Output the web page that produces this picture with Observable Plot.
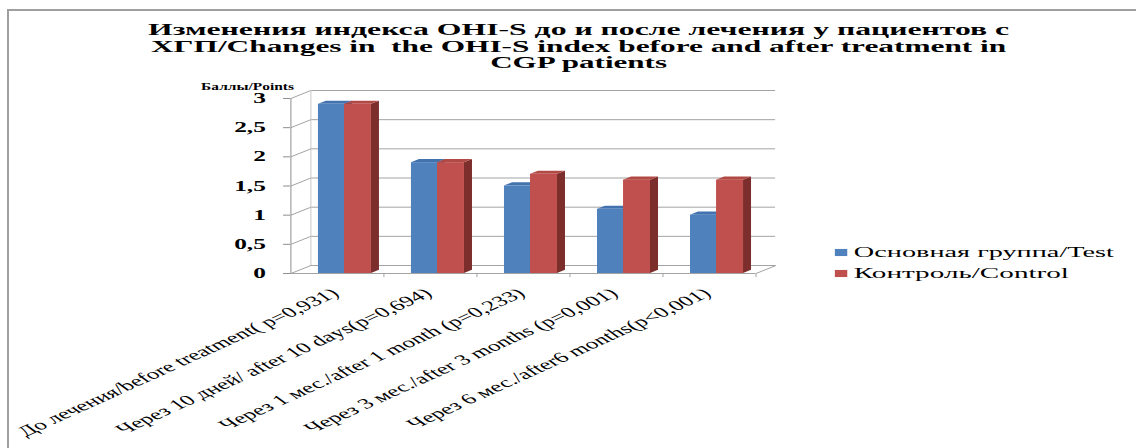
<!DOCTYPE html>
<html>
<head>
<meta charset="utf-8">
<script src="https://cdn.jsdelivr.net/npm/d3@7"></script>
<script src="https://cdn.jsdelivr.net/npm/@observablehq/plot@0.6"></script>
<style>
  html, body { margin: 0; padding: 0; background: #fff; }
  #wrap { position: relative; width: 1136px; height: 448px; overflow: hidden; }
  #wrap svg { display: block; }
  #wrap svg text { font-family: "Liberation Serif", "Times New Roman", "DejaVu Serif", serif !important; }
  #wrap svg line, #wrap svg path { vector-effect: non-scaling-stroke; }
  #edge { position: absolute; left: 7px; top: 9px; right: -10px; bottom: -10px;
          border-top: 2px solid #9f9f9f; border-left: 2px solid #9f9f9f; pointer-events: none; }
</style>
</head>
<body>
<div id="wrap"><div id="edge"></div></div>
<script>
// ---- data ----
const periods = [
  "До лечения/before treatment( p=0,931)",
  "Через 10 дней/ after 10 days(p=0,694)",
  "Через 1 мес./after 1 month (p=0,233)",
  "Через 3 мес./after 3 months (p=0,001)",
  "Через 6 мес./after6 months(p<0,001)"
];
const testValues = [2.9, 1.9, 1.5, 1.1, 1.0];
const controlValues = [2.9, 1.9, 1.7, 1.6, 1.6];
const seriesNames = ["Основная группа/Test", "Контроль/Control"];
const yTicks = [0, 0.5, 1, 1.5, 2, 2.5, 3];
const yTickLabels = ["0", "0,5", "1", "1,5", "2", "2,5", "3"];
const titleLines = [
  "Изменения индекса OHI-S до и после лечения у пациентов с",
  "ХГП/Changes in  the OHI-S index before and after treatment in",
  "CGP patients"
];
const yAxisLabel = "Баллы/Points";

// ---- layout (drawn in a narrow coordinate space, widened on screen) ----
const W = 649, H = 448, SCREEN_W = 1136;
const serif = "Liberation Serif";
const wallDX = 0.215, wallDY = 0.137;   // depth of the back wall, in data units
const barDX = 0.086, barDY = 0.055;     // depth of each column
const slots = [[0.30, 0.58], [0.58, 0.87]];
const palette = [
  {front: "#4F81BD", top: "#4373AF", side: "#2F5A8C"},
  {front: "#C0504D", top: "#B14945", side: "#7B2E2C"}
];

const seriesValues = [testValues, controlValues];
const bars = seriesValues.map((vals, k) => vals.map((v, i) => ({
  id: `${k}-${i}`, v, x1: i + slots[k][0], x2: i + slots[k][1]
})));
const sideFaces = bars.map(list => list.flatMap(b => [
  {id: b.id, x: b.x2, lo: 0, hi: b.v},
  {id: b.id, x: b.x2 + barDX, lo: barDY, hi: b.v + barDY}
]));
const topFaces = bars.map(list => list.flatMap(b => [
  {id: b.id, x: b.x1, lo: b.v, hi: b.v},
  {id: b.id, x: b.x1 + barDX, lo: b.v, hi: b.v + barDY},
  {id: b.id, x: b.x2, lo: b.v, hi: b.v + barDY},
  {id: b.id, x: b.x2 + barDX, lo: b.v + barDY, hi: b.v + barDY}
]));

const columnMarks = [0, 1].flatMap(k => [
  Plot.area(sideFaces[k], {x1: "x", y1: "lo", y2: "hi", z: "id", fill: palette[k].side, curve: "linear"}),
  Plot.area(topFaces[k], {x1: "x", y1: "lo", y2: "hi", z: "id", fill: palette[k].top, curve: "linear"}),
  Plot.rect(bars[k], {x1: "x1", x2: "x2", y1: 0, y2: "v", fill: palette[k].front})
]);

const grid = "#a3a3a3";
const chart = Plot.plot({
  width: W,
  height: H,
  marginLeft: 165.7,
  marginRight: 217.6,
  marginTop: 98,
  marginBottom: 175,
  x: {type: "linear", domain: [0, periods.length], axis: null},
  y: {domain: [0, 3], axis: null},
  style: {fontFamily: serif, color: "#000", background: "#fff", overflow: "visible"},
  marks: [
    // back wall and side wall
    Plot.ruleY(yTicks, {y: d => d + wallDY, x1: wallDX, x2: periods.length + wallDX, stroke: grid}),
    Plot.link(yTicks, {x1: 0, y1: d => d, x2: wallDX, y2: d => d + wallDY, stroke: grid}),
    Plot.ruleX([wallDX], {y1: wallDY, y2: 3 + wallDY, stroke: "#c8c8c8"}),
    // floor
    Plot.ruleY([0], {x1: 0, x2: periods.length, stroke: grid}),
    Plot.link([periods.length], {x1: d => d, y1: 0, x2: d => d + wallDX, y2: wallDY, stroke: grid}),
    Plot.ruleX(d3.range(1, periods.length + 1), {y1: 0, y2: -0.07, stroke: grid}),
    // front value axis
    Plot.ruleX([0], {y1: 0, y2: 3, stroke: "#8f8f8f"}),
    Plot.ruleY(yTicks, {x1: -0.075, x2: 0, stroke: "#8f8f8f"}),
    Plot.text(yTicks, {x: 0, y: d => d, text: (d, i) => yTickLabels[i], textAnchor: "end",
      dx: -14.3, fontSize: 14.5, fontWeight: "bold", fontFamily: serif}),
    // columns
    ...columnMarks,
    // category labels
    Plot.text(periods, {x: (d, i) => i + 0.5, y: 0, text: d => d, rotate: -38.3,
      textAnchor: "end", lineAnchor: "middle", dx: -1.2, dy: 18, fontSize: 14.4, fontFamily: serif}),
    // axis caption
    Plot.text([yAxisLabel], {frameAnchor: "top-left", text: d => d, textAnchor: "end", lineAnchor: "middle",
      dx: 1.7, dy: -12, fontSize: 9.8, fontWeight: "bold", fontFamily: serif}),
    // title
    ...titleLines.map((line, j) => Plot.text([line], {frameAnchor: "top", text: d => d,
      textAnchor: "middle", lineAnchor: "middle", dx: 31.5, dy: [-69, -52, -36][j],
      fontSize: 16, fontWeight: "bold", fontFamily: serif, fill: "#000"})),
    // legend
    ...seriesNames.flatMap((name, k) => [
      Plot.dot([name], {frameAnchor: "top-left", dx: 314.3, dy: [154, 175][k], symbol: "square",
        r: 4, fill: palette[k].front, stroke: "none"}),
      Plot.text([name], {frameAnchor: "top-left", text: d => d, textAnchor: "start", lineAnchor: "middle",
        dx: 321.6, dy: [154, 175][k], fontSize: 15, fontFamily: serif})
    ])
  ]
});

// widen the drawing horizontally across the page
chart.setAttribute("width", SCREEN_W);
chart.setAttribute("height", H);
chart.setAttribute("preserveAspectRatio", "none");
chart.style.width = SCREEN_W + "px";
chart.style.height = H + "px";
chart.style.maxWidth = "none";

// spread the title lines, caption and legend entries to their set lengths
const spans = new Map([
  [titleLines[0], 492],
  [titleLines[1], 488.6],
  [titleLines[2], 101],
  [yAxisLabel, 53],
  [seriesNames[0], 148.6],
  [seriesNames[1], 122.9]
]);
d3.select(chart).selectAll("text").each(function () {
  const len = spans.get(this.textContent);
  if (len) {
    this.setAttribute("textLength", len);
    this.setAttribute("lengthAdjust", "spacingAndGlyphs");
  }
});

document.getElementById("wrap").prepend(chart);
</script>
</body>
</html>
